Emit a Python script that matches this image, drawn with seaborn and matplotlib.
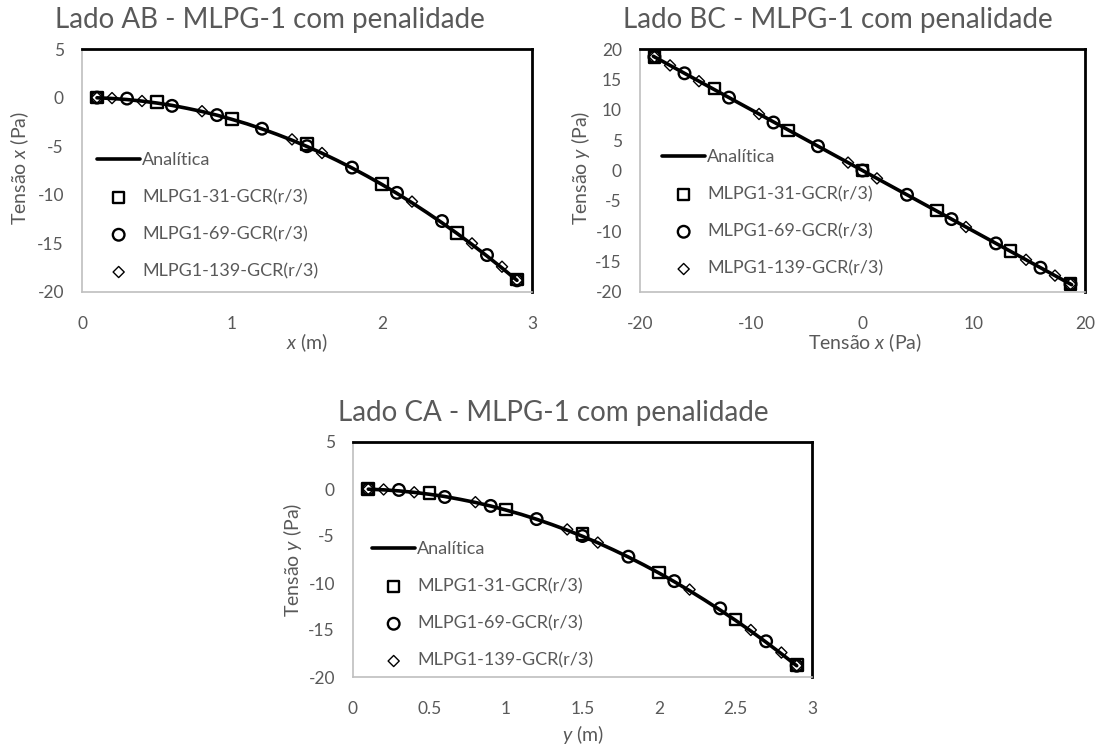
import numpy as np
import pandas as pd
import matplotlib
matplotlib.use("Agg")
import matplotlib.pyplot as plt
import seaborn as sns

# Lado AB / CA (same profile)
line_s = [0.1, 0.2, 0.3, 0.4, 0.5, 0.6, 0.7, 0.8, 0.9, 1.0, 1.1, 1.2, 1.3, 1.4, 1.5,
          1.6, 1.7, 1.8, 1.9, 2.0, 2.1, 2.2, 2.3, 2.4, 2.5, 2.6, 2.7, 2.8, 2.9]
line_sig = [-0.02, -0.09, -0.2, -0.36, -0.56, -0.8, -1.1, -1.43, -1.81, -2.24, -2.7, -3.22,
            -3.78, -4.38, -5.03, -5.72, -6.46, -7.24, -8.07, -8.94, -9.86, -10.82, -11.83,
            -12.88, -13.97, -15.11, -16.3, -17.53, -18.8]
n31_s = [0.1, 0.5, 1.0, 1.5, 2.0, 2.5, 2.9]
n31_sig = [0.0, -0.45, -2.2, -4.8, -8.9, -13.9, -18.7]
n69_s = [0.1, 0.3, 0.6, 0.9, 1.2, 1.5, 1.8, 2.1, 2.4, 2.7, 2.9]
n69_sig = [0.0, -0.1, -0.85, -1.8, -3.2, -5.0, -7.2, -9.8, -12.7, -16.2, -18.8]
n139_s = [0.1, 0.2, 0.4, 0.8, 1.4, 1.6, 2.2, 2.6, 2.8, 2.9]
n139_sig = [0.0, -0.05, -0.35, -1.4, -4.3, -5.7, -10.7, -15.0, -17.4, -18.8]

# Lado BC
bc_line_x = [-18.8, 18.8]
bc_line_y = [18.8, -18.8]
bc31_x = [-18.7, -13.3, -6.7, 0.0, 6.7, 13.3, 18.7]
bc31_y = [18.7, 13.5, 6.6, 0.0, -6.6, -13.3, -18.7]
bc69_x = [-18.7, -16.0, -12.0, -8.0, -4.0, 0.0, 4.0, 8.0, 12.0, 16.0, 18.7]
bc69_y = [18.7, 16.0, 12.0, 7.9, 4.0, 0.0, -4.0, -8.0, -12.0, -16.0, -18.7]
bc139_x = [-18.7, -17.3, -14.7, -9.3, -1.3, 1.3, 9.3, 14.7, 17.3, 18.7]
bc139_y = [18.7, 17.3, 14.7, 9.3, 1.3, -1.3, -9.3, -14.7, -17.3, -18.7]

labels = ["Analítica", "MLPG1-31-GCR(r/3)", "MLPG1-69-GCR(r/3)", "MLPG1-139-GCR(r/3)"]

sns.set_style("white")
plt.rcParams["font.family"] = ["Lato", "DejaVu Sans"]
plt.rcParams["axes.unicode_minus"] = False
plt.rcParams["mathtext.fontset"] = "custom"
plt.rcParams["mathtext.it"] = "Lato:italic"
plt.rcParams["mathtext.rm"] = "Lato"

GRAY = "#595959"
W, H = 1105, 749
fig = plt.figure(figsize=(W / 100, H / 100), dpi=100)


def px_axes(x0, x1, y0, y1):
    return fig.add_axes([x0 / W, 1 - y1 / H, (x1 - x0) / W, (y1 - y0) / H])


def draw(ax, box, lx, ly, s31, s69, s139, xlim, ylim, xticks, yticks,
         xlabel, ylabel, xlab_pos, ylab_pos, leg_pos):
    x0, x1, y0, y1 = box
    sns.lineplot(x=lx, y=ly, ax=ax, color="black", linewidth=2.6, label=labels[0])
    sns.scatterplot(x=s31[0], y=s31[1], ax=ax, marker="s", s=70, facecolor="none",
                    edgecolor="black", linewidth=1.7, label=labels[1])
    sns.scatterplot(x=s69[0], y=s69[1], ax=ax, marker="o", s=70, facecolor="none",
                    edgecolor="black", linewidth=1.7, label=labels[2])
    sns.scatterplot(x=s139[0], y=s139[1], ax=ax, marker="D", s=32, facecolor="none",
                    edgecolor="black", linewidth=1.0, label=labels[3])
    ax.set_xlim(*xlim)
    ax.set_ylim(*ylim)
    ax.set_xticks(xticks)
    ax.set_yticks(yticks)
    ax.tick_params(axis="both", length=0, labelsize=12.5, colors=GRAY)
    ax.tick_params(axis="y", pad=13)
    ax.tick_params(axis="x", pad=17)
    ax.set_xlabel(xlabel, fontsize=14, color=GRAY)
    ax.set_ylabel(ylabel, fontsize=14, color=GRAY)
    # label centres given in figure pixels
    ax.xaxis.label.set_va("center")
    ax.yaxis.label.set_va("center")
    ax.xaxis.set_label_coords((xlab_pos[0] - x0) / (x1 - x0), (y1 - xlab_pos[1]) / (y1 - y0))
    ax.yaxis.set_label_coords((ylab_pos[0] - x0) / (x1 - x0), (y1 - ylab_pos[1]) / (y1 - y0))
    for side in ["top", "right"]:
        ax.spines[side].set_color("black")
        ax.spines[side].set_linewidth(2)
    for side in ["left", "bottom"]:
        ax.spines[side].set_color("#bfbfbf")
        ax.spines[side].set_linewidth(1.2)
    ax.legend(loc="upper left",
              bbox_to_anchor=((leg_pos[0] - x0) / (x1 - x0), (y1 - leg_pos[1]) / (y1 - y0)),
              frameon=False, fontsize=13, labelcolor=GRAY, handlelength=2.4,
              handletextpad=0.1, labelspacing=1.17, borderpad=0, borderaxespad=0)


box1 = (82, 532, 49, 292)
ax1 = px_axes(*box1)
draw(ax1, box1, line_s, line_sig, (n31_s, n31_sig), (n69_s, n69_sig), (n139_s, n139_sig),
     (0, 3), (-20, 5), [0, 1, 2, 3], [-20, -15, -10, -5, 0, 5],
     "$\\it{x}$ (m)", "Tensão $\\it{x}$ (Pa)", (307, 343), (20, 168), (97, 152))
fig.text(270 / W, 1 - 20 / H, "Lado AB - MLPG-1 com penalidade", ha="center", va="center",
         fontsize=20, color=GRAY)

box2 = (640, 1085, 49, 292)
ax2 = px_axes(*box2)
draw(ax2, box2, bc_line_x, bc_line_y, (bc31_x, bc31_y), (bc69_x, bc69_y), (bc139_x, bc139_y),
     (-20, 20), (-20, 20), [-20, -10, 0, 10, 20], [-20, -15, -10, -5, 0, 5, 10, 15, 20],
     "Tensão $\\it{x}$ (Pa)", "Tensão $\\it{y}$ (Pa)", (865, 343), (580, 168), (662, 149))
fig.text(838 / W, 1 - 20 / H, "Lado BC - MLPG-1 com penalidade", ha="center", va="center",
         fontsize=20, color=GRAY)

box3 = (353, 812, 442, 677)
ax3 = px_axes(*box3)
draw(ax3, box3, line_s, line_sig, (n31_s, n31_sig), (n69_s, n69_sig), (n139_s, n139_sig),
     (0, 3), (-20, 5), [0, 0.5, 1, 1.5, 2, 2.5, 3], [-20, -15, -10, -5, 0, 5],
     "$\\it{y}$ (m)", "Tensão $\\it{y}$ (Pa)", (583, 735), (293, 560), (372, 541))
ax3.set_xticklabels(["0", "0.5", "1", "1.5", "2", "2.5", "3"])
fig.text(553 / W, 1 - 413 / H, "Lado CA - MLPG-1 com penalidade", ha="center", va="center",
         fontsize=20, color=GRAY)

fig.savefig("out.png", dpi=100, facecolor="white")
